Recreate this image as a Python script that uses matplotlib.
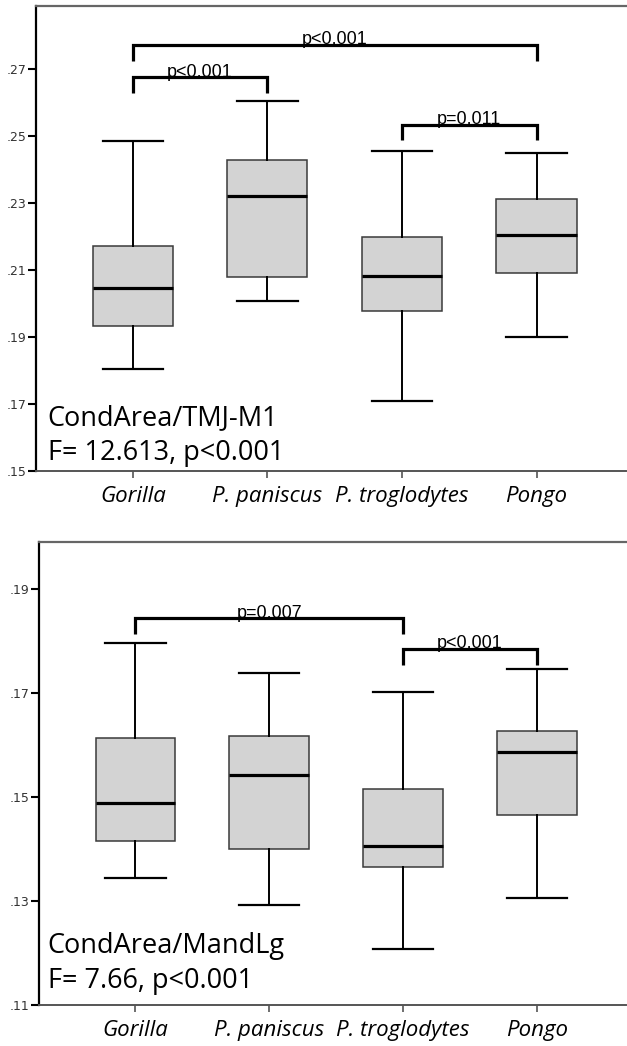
import matplotlib.pyplot as plt
from matplotlib.ticker import FuncFormatter

species = ['Gorilla', 'P. paniscus', 'P. troglodytes', 'Pongo']

# CondArea/TMJ-M1 box stats: lower whisker, Q1, median, Q3, upper whisker
tmj_lo = [0.1804, 0.2008, 0.1710, 0.1901]
tmj_q1 = [0.1933, 0.2078, 0.1978, 0.2092]
tmj_med = [0.2045, 0.2321, 0.2082, 0.2204]
tmj_q3 = [0.2172, 0.2428, 0.2199, 0.2313]
tmj_hi = [0.2485, 0.2605, 0.2456, 0.2448]
tmj_ticks = [0.15, 0.17, 0.19, 0.21, 0.23, 0.25, 0.27]
# brackets: (group a, group b, line level, leg end, label)
tmj_brackets = [(0, 3, 0.2772, 0.2725, 'p<0.001'),
                (0, 1, 0.2675, 0.2629, 'p<0.001'),
                (2, 3, 0.2533, 0.2488, 'p=0.011')]

# CondArea/MandLg
mand_lo = [0.1344, 0.1292, 0.1207, 0.1305]
mand_q1 = [0.1415, 0.1401, 0.1366, 0.1465]
mand_med = [0.1488, 0.1542, 0.1406, 0.1587]
mand_q3 = [0.1613, 0.1617, 0.1515, 0.1628]
mand_hi = [0.1797, 0.1738, 0.1702, 0.1746]
mand_ticks = [0.11, 0.13, 0.15, 0.17, 0.19]
mand_brackets = [(0, 2, 0.1844, 0.1813, 'p=0.007'),
                 (2, 3, 0.1786, 0.1754, 'p<0.001')]

W, H = 627, 1046
fig = plt.figure(figsize=(W / 100, H / 100), dpi=100)


def panel(rect, lo, q1, med, q3, hi, ticks, ylim, brackets, title, stat,
          text_x, text_y):
    ax = fig.add_axes(rect)
    stats = []
    for i in range(len(species)):
        stats.append(dict(whislo=lo[i], q1=q1[i], med=med[i], q3=q3[i],
                          whishi=hi[i], fliers=[]))
    ax.bxp(stats, positions=range(len(species)), widths=0.595,
           patch_artist=True, showfliers=False,
           boxprops=dict(facecolor='#d3d3d3', edgecolor='#3a3a3a', linewidth=1.1),
           medianprops=dict(color='black', linewidth=2.3),
           whiskerprops=dict(color='black', linewidth=1.4),
           capprops=dict(color='black', linewidth=1.6),
           capwidths=0.45)
    for a, b, top, leg, txt in brackets:
        ax.plot([a, a, b, b], [leg, top, top, leg], color='black', lw=2.3,
                solid_joinstyle='miter', solid_capstyle='butt')
        ax.annotate(txt, ((a + b) / 2, top), xytext=(0, -2.5),
                    textcoords='offset points', ha='center', va='bottom',
                    fontsize=13, family='Liberation Sans')
    ax.set_xlim(-0.72, 3.665)
    ax.set_ylim(*ylim)
    ax.set_yticks(ticks)
    ax.yaxis.set_major_formatter(FuncFormatter(lambda v, p: ('%.2f' % v)[1:]))
    ax.set_xticks(range(len(species)))
    ax.set_xticklabels(species, family='Open Sans', style='italic', fontsize=16)
    ax.tick_params(axis='y', length=6, width=1.5, labelsize=9, pad=1,
                   labelcolor='#333333')
    ax.tick_params(axis='x', length=5, width=1.2, pad=6, color='#555555')
    ax.spines['right'].set_visible(False)
    ax.spines['top'].set_color('#666666')
    ax.spines['top'].set_linewidth(1.6)
    ax.spines['bottom'].set_color('#555555')
    ax.spines['bottom'].set_linewidth(1.4)
    ax.spines['left'].set_color('black')
    ax.spines['left'].set_linewidth(1.6)
    ax.text(text_x, text_y[0], title, transform=ax.transAxes,
            fontsize=19.5, family='Open Sans', va='baseline')
    ax.text(text_x, text_y[1], stat, transform=ax.transAxes,
            fontsize=19.5, family='Open Sans', va='baseline')
    return ax


panel([36 / W, (H - 471) / H, 590 / W, 465 / H],
      tmj_lo, tmj_q1, tmj_med, tmj_q3, tmj_hi, tmj_ticks, (0.15, 0.2888),
      tmj_brackets, 'CondArea/TMJ-M1', 'F= 12.613, p<0.001',
      0.02, (0.099, 0.024))

panel([39 / W, (H - 1005) / H, 587 / W, 463 / H],
      mand_lo, mand_q1, mand_med, mand_q3, mand_hi, mand_ticks, (0.11, 0.1991),
      mand_brackets, 'CondArea/MandLg', 'F= 7.66, p<0.001',
      0.015, (0.112, 0.037))

fig.savefig('out.png', dpi=100)
